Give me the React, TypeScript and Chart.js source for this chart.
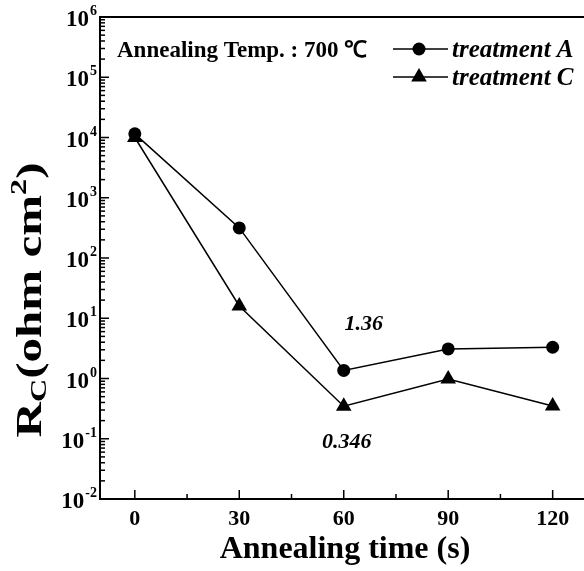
import React, { useEffect, useRef } from "react";
import { Chart, registerables } from "chart.js";

Chart.register(...registerables);

const annealingTimes = [0, 30, 60, 90, 120];
const treatmentA = [11500, 316, 1.36, 3.1, 3.3];
const treatmentC = [10000, 16, 0.346, 0.98, 0.35];
const seriesNames = ["treatment A", "treatment C"];
const xMajorTicks = [0, 30, 60, 90, 120];
const xMinorTicks = [15, 45, 75, 105];
const yExponents = [-2, -1, 0, 1, 2, 3, 4, 5, 6];
const annotationA = "1.36";
const annotationC = "0.346";
const headerText = "Annealing Temp. : 700 \u2103";
const xTitle = "Annealing time (s)";

const SERIF = '"Liberation Serif", "Times New Roman", serif';
const W = 584;
const H = 571;

function drawTriangle(ctx: CanvasRenderingContext2D, x: number, y: number, r: number) {
  ctx.beginPath();
  for (let i = 0; i < 3; i++) {
    const a = (i * 2 * Math.PI) / 3;
    const px = x + Math.sin(a) * r;
    const py = y - Math.cos(a) * r;
    if (i === 0) ctx.moveTo(px, py);
    else ctx.lineTo(px, py);
  }
  ctx.closePath();
  ctx.fill();
}

const decorPlugin = {
  id: "decor",
  afterDraw(chart: any) {
    const ctx: CanvasRenderingContext2D = chart.ctx;
    const { left, right, top, bottom } = chart.chartArea;
    const xs = chart.scales.x;
    const ys = chart.scales.y;
    ctx.save();
    ctx.strokeStyle = "#000";
    ctx.fillStyle = "#000";

    // top frame line
    ctx.lineWidth = 2;
    ctx.beginPath();
    ctx.moveTo(left - 1, top);
    ctx.lineTo(right, top);
    ctx.stroke();

    // y ticks (inward, major + minor)
    ctx.lineWidth = 1.5;
    const maxE = yExponents[yExponents.length - 1];
    for (const e of yExponents) {
      const y = ys.getPixelForValue(Math.pow(10, e));
      ctx.beginPath();
      ctx.moveTo(left, y);
      ctx.lineTo(left + 9, y);
      ctx.stroke();
      if (e < maxE) {
        for (let k = 2; k <= 9; k++) {
          const ym = ys.getPixelForValue(k * Math.pow(10, e));
          ctx.beginPath();
          ctx.moveTo(left, ym);
          ctx.lineTo(left + 5, ym);
          ctx.stroke();
        }
      }
    }
    // x ticks
    for (const v of xMajorTicks) {
      const x = xs.getPixelForValue(v);
      ctx.beginPath();
      ctx.moveTo(x, bottom);
      ctx.lineTo(x, bottom - 9);
      ctx.stroke();
    }
    for (const v of xMinorTicks) {
      const x = xs.getPixelForValue(v);
      ctx.beginPath();
      ctx.moveTo(x, bottom);
      ctx.lineTo(x, bottom - 5);
      ctx.stroke();
    }

    // x tick labels
    ctx.font = `bold 22px ${SERIF}`;
    ctx.textAlign = "center";
    ctx.textBaseline = "alphabetic";
    for (const v of xMajorTicks) {
      ctx.fillText(String(v), xs.getPixelForValue(v), bottom + 26);
    }

    // y tick labels with superscripts
    for (const e of yExponents) {
      const y = ys.getPixelForValue(Math.pow(10, e));
      ctx.font = `bold 14px ${SERIF}`;
      const sup = String(e);
      const supW = ctx.measureText(sup).width;
      const rightEdge = left - 3;
      ctx.textAlign = "left";
      ctx.fillText(sup, rightEdge - supW, y - 2);
      ctx.font = `bold 23px ${SERIF}`;
      ctx.textAlign = "right";
      ctx.fillText("10", rightEdge - supW - 1, y + 9);
    }

    // x axis title
    ctx.font = `bold 32px ${SERIF}`;
    ctx.textAlign = "center";
    ctx.fillText(xTitle, 345, 558);

    // y axis title R_C(ohm cm^2), rotated
    {
      const big = `bold 35px ${SERIF}`;
      const small = `bold 23px ${SERIF}`;
      const parts = [
        { t: "R", f: big, dy: 0 },
        { t: "C", f: small, dy: 5 },
        { t: "(ohm cm", f: big, dy: 0 },
        { t: "2", f: small, dy: -15 },
        { t: ")", f: big, dy: 0 },
      ];
      let total = 0;
      const widths: number[] = [];
      for (const p of parts) {
        ctx.font = p.f;
        const w = ctx.measureText(p.t).width;
        widths.push(w);
        total += w;
      }
      const targetLen = 275;
      const sx = targetLen / total;
      ctx.save();
      ctx.translate(41, 300);
      ctx.rotate(-Math.PI / 2);
      ctx.scale(sx, 1);
      ctx.textAlign = "left";
      let cx = -total / 2;
      parts.forEach((p, i) => {
        ctx.font = p.f;
        ctx.fillText(p.t, cx, p.dy);
        cx += widths[i];
      });
      ctx.restore();
    }

    // header text
    ctx.font = `bold 23px ${SERIF}`;
    ctx.textAlign = "left";
    ctx.fillText(headerText, 117, 57);

    // legend
    const rows = [49, 77];
    ctx.lineWidth = 1.5;
    rows.forEach((ry, i) => {
      ctx.beginPath();
      ctx.moveTo(393, ry);
      ctx.lineTo(448, ry);
      ctx.stroke();
      if (i === 0) {
        ctx.beginPath();
        ctx.arc(419, ry, 6.5, 0, Math.PI * 2);
        ctx.fill();
      } else {
        drawTriangle(ctx, 419, ry, 9);
      }
      ctx.font = `italic bold 25px ${SERIF}`;
      ctx.textAlign = "left";
      ctx.fillText(seriesNames[i], 452, ry + 8);
    });

    // annotations
    ctx.font = `italic bold 22px ${SERIF}`;
    ctx.textAlign = "center";
    ctx.textBaseline = "middle";
    const idx60 = annealingTimes.indexOf(60);
    ctx.fillText(annotationA, xs.getPixelForValue(60) + 20, ys.getPixelForValue(treatmentA[idx60]) - 46);
    ctx.fillText(annotationC, xs.getPixelForValue(60) + 3, ys.getPixelForValue(treatmentC[idx60]) + 36);

    ctx.restore();
  },
};

export default function App() {
  const canvasRef = useRef<HTMLCanvasElement | null>(null);

  useEffect(() => {
    document.body.style.margin = "0";
    const canvas = canvasRef.current;
    if (!canvas) return;
    const chart = new Chart(canvas, {
      type: "line",
      data: {
        datasets: [
          {
            label: seriesNames[0],
            data: annealingTimes.map((t, i) => ({ x: t, y: treatmentA[i] })),
            borderColor: "#000",
            backgroundColor: "#000",
            borderWidth: 1.5,
            pointStyle: "circle",
            pointRadius: 6.5,
            pointBorderWidth: 0,
            pointBackgroundColor: "#000",
            tension: 0,
          },
          {
            label: seriesNames[1],
            data: annealingTimes.map((t, i) => ({ x: t, y: treatmentC[i] })),
            borderColor: "#000",
            backgroundColor: "#000",
            borderWidth: 1.5,
            pointStyle: "triangle",
            pointRadius: 9,
            pointBorderWidth: 0,
            pointBackgroundColor: "#000",
            tension: 0,
          },
        ],
      },
      options: {
        animation: false,
        responsive: false,
        maintainAspectRatio: false,
        devicePixelRatio: 1,
        layout: { autoPadding: false, padding: { top: 17, right: 0, left: 0, bottom: 0 } },
        plugins: {
          legend: { display: false },
          tooltip: { enabled: false },
        },
        scales: {
          x: {
            type: "linear",
            min: -10,
            max: 129,
            grid: { display: false, drawTicks: false },
            border: { display: true, color: "#000", width: 2 },
            ticks: { display: false },
            afterFit: (s: any) => {
              s.height = 72;
            },
          },
          y: {
            type: "logarithmic",
            min: 0.01,
            max: 1e6,
            grid: { display: false, drawTicks: false },
            border: { display: true, color: "#000", width: 2 },
            ticks: { display: false },
            afterFit: (s: any) => {
              s.width = 100;
            },
          },
        },
      } as any,
      plugins: [decorPlugin],
    });
    return () => chart.destroy();
  }, []);

  return (
    <div style={{ width: W, height: H, position: "relative", background: "#fff" }}>
      <canvas ref={canvasRef} width={W} height={H} style={{ display: "block" }} />
    </div>
  );
}
